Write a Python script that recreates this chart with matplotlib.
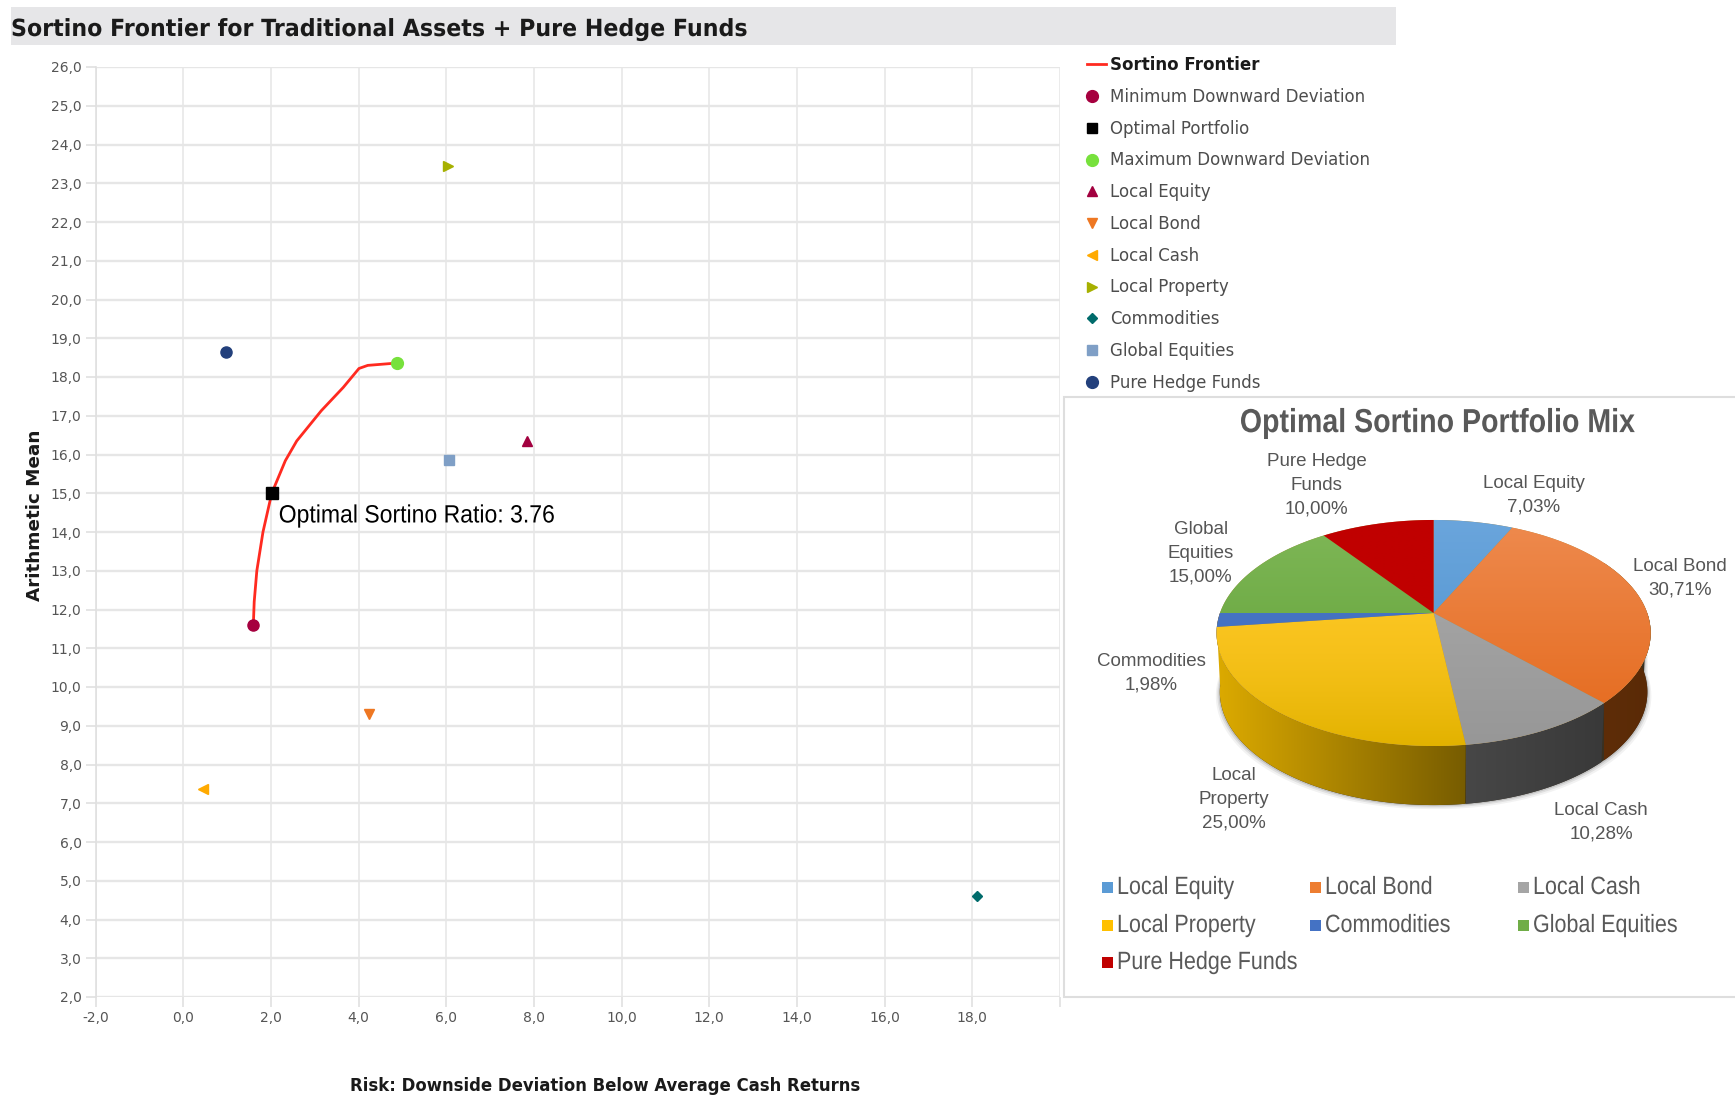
import numpy as np
import matplotlib
matplotlib.use("Agg")
import matplotlib.pyplot as plt
from matplotlib.colors import to_rgb
from matplotlib.legend_handler import HandlerLine2D
from matplotlib.patches import Polygon, Rectangle
from matplotlib.patheffects import AbstractPathEffect
from matplotlib.ticker import FuncFormatter
from matplotlib.transforms import Affine2D

# ---------- data ----------
frontier_x = [1.60, 1.62, 1.68, 1.82, 2.02, 2.33, 2.59, 3.15, 3.65, 4.01, 4.21, 4.87]
frontier_y = [11.6, 12.2, 13.0, 14.0, 15.0, 15.84, 16.35, 17.13, 17.73, 18.22, 18.30, 18.36]
point_names = ["Minimum Downward Deviation", "Optimal Portfolio", "Maximum Downward Deviation",
               "Local Equity", "Local Bond", "Local Cash", "Local Property",
               "Commodities", "Global Equities", "Pure Hedge Funds"]
point_x = [1.60, 2.02, 4.87, 7.85, 4.24, 0.46, 6.03, 18.10, 6.06, 0.97]
point_y = [11.6, 15.0, 18.36, 16.36, 9.31, 7.37, 23.45, 4.60, 15.85, 18.65]
point_markers = ["o", "s", "o", "^", "v", "<", ">", "D", "s", "o"]
point_sizes = [8, 8, 8.5, 7.5, 7.5, 7.5, 7.5, 5, 7.5, 8]
legend_sizes = [8.5, 7, 8.5, 7, 7, 7, 7, 5.5, 7, 8.5]
point_colors = ["#a6003f", "#000000", "#77e13c", "#a2003f", "#ee7722", "#ffaa00",
                "#a6b000", "#006b6b", "#7f9fc6", "#23407c"]

pie_names = ["Local Equity", "Local Bond", "Local Cash", "Local Property",
             "Commodities", "Global Equities", "Pure Hedge Funds"]
pie_values = [7.03, 30.71, 10.28, 25.00, 1.98, 15.00, 10.00]
pie_label_lines = ["Local Equity", "Local Bond", "Local Cash", "Local\nProperty",
                   "Commodities", "Global\nEquities", "Pure Hedge\nFunds"]
pie_colors = ["#5b9bd5", "#ed7d31", "#a5a5a5", "#ffc000", "#4472c4", "#70ad47", "#c00000"]

# ---------- styles / layout (pixels in a 1735x1097 canvas) ----------
W, H = 1735, 1097
SANS = "Liberation Sans"
face_top = ["#6aa5dc", "#ee8a4e", "#ababab", "#ffc826", "#4a78c8", "#7fb757", "#c00000"]
face_bot = ["#4a90cc", "#e4681a", "#979797", "#e2b200", "#3f6cbc", "#5d9f33", "#c00000"]
face_gamma = [1, 1, 1, 2.2, 1, 1, 1]
wall_l = ["#2f5f8c", "#5e2d08", "#474747", "#dcaa00", "#2a4a80", "#4a7a30", "#800000"]
wall_r = ["#2f5f8c", "#5a2a06", "#393939", "#775c00", "#2a4a80", "#4a7a30", "#800000"]
label_centres = [(1533.6, 495), (1680, 578), (1601, 822), (1234, 799.5),
                 (1151, 673.5), (1200.6, 553.5), (1316.7, 485)]


class Condense(AbstractPathEffect):
    """Narrow a real text horizontally about the pixel column x0."""

    def __init__(self, sx, x0):
        super().__init__()
        self.sx, self.x0 = sx, x0

    def draw_path(self, renderer, gc, tpath, affine, rgbFace=None):
        t = affine + Affine2D().translate(-self.x0, 0).scale(self.sx, 1).translate(self.x0, 0)
        renderer.draw_path(gc, tpath, t, rgbFace)


class ShiftedMarker(HandlerLine2D):
    """Legend marker a little left of the middle of the handle box."""

    def get_xdata(self, legend, xdescent, ydescent, width, height, fontsize):
        xd, xm = super().get_xdata(legend, xdescent, ydescent, width, height, fontsize)
        return [v - 3.2 for v in xd], [v - 3.2 for v in xm]


fig = plt.figure(figsize=(W / 100, H / 100), dpi=100, facecolor="white")

# ---------- frontier chart ----------
L, R, T, B = 95.5, 1060, 67, 997
ax = fig.add_axes([L / W, 1 - B / H, (R - L) / W, (B - T) / H])
line, = ax.plot(frontier_x, frontier_y, color="#ff2a20", lw=2.0, label="Sortino Frontier", zorder=3)
handles = [line]
for n, x, y, m, s, c in zip(point_names, point_x, point_y, point_markers, point_sizes, point_colors):
    h, = ax.plot([x], [y], ls="none", marker=m, ms=s, color=c, mec=c, label=n, zorder=4)
    handles.append(h)
ax.set_xlim(-2, 20)
ax.set_ylim(2, 26)
ax.set_xticks(np.arange(-2, 21, 2))
ax.set_yticks(np.arange(2, 27, 1))
ax.xaxis.set_major_formatter(FuncFormatter(lambda v, p: "" if v > 19 else f"{v:.1f}".replace(".", ",")))
ax.yaxis.set_major_formatter(FuncFormatter(lambda v, p: f"{v:.1f}".replace(".", ",")))
ax.tick_params(axis="both", colors="#e0e0e0", labelcolor="#555555", labelsize=10, length=7, width=1.2, pad=3)
ax.grid(axis="y", color="#e6e6e6", lw=1.7)
ax.grid(axis="x", color="#e6e6e6", lw=1.1)
ax.set_axisbelow(True)
for k in ["top", "right", "bottom"]:
    ax.spines[k].set_visible(False)
ax.spines["left"].set_color("#e0e0e0")
ax.spines["left"].set_linewidth(1.2)
ann = ax.annotate("Optimal Sortino Ratio: 3.76", xy=(point_x[1], point_y[1]), xytext=(5, -16),
                  textcoords="offset points", ha="left", va="center", fontsize=18,
                  family=SANS, color="black", zorder=5)
ann.set_path_effects([Condense(0.92, 279)])

# ---------- overlay in pixel coordinates ----------
ov = fig.add_axes([0, 0, 1, 1], zorder=2)
ov.patch.set_alpha(0)
ov.axis("off")

ov.add_patch(Rectangle((11, 6.5), 1385, 38, fc="#e6e6e8", ec="none"))
title = ov.text(11, 29, "Sortino Frontier for Traditional Assets + Pure Hedge Funds", fontsize=17,
                fontweight="bold", color="#1a1a1a", ha="left", va="center")
title.set_path_effects([Condense(0.939, 11)])
ov.text(605, 1086, "Risk: Downside Deviation Below Average Cash Returns", fontsize=11.9,
        fontweight="bold", color="#1a1a1a", ha="center", va="center")
ov.text(35, 515, "Arithmetic Mean", fontsize=13.2, fontweight="bold", color="#1a1a1a",
        rotation=90, ha="center", va="center")

# panel
ov.add_patch(Rectangle((1064, 397), 700, 600, fc="white", ec="#dedede", lw=1.5))
pie_title = ov.text(1438, 423.6, "Optimal Sortino Portfolio Mix", fontsize=24, fontweight="bold",
                    family=SANS, color="#595959", ha="center", va="center")
pie_title.set_path_effects([Condense(0.857, 1438)])

# 3-D pie projected from the values
cx, cy = 1433.6, 613.0
k, a, b = 0.177, 109.5, 213.6
depth = 59.0


def rim(theta):
    u, v = np.sin(theta), np.cos(theta)
    d = 1 + k * v
    return cx + b * u / d, cy - a * v / d


def gradient_fill(poly_xy, c0, c1, vertical, lo, hi, z, gamma=1.0):
    poly = Polygon(poly_xy, closed=True, fc="none", ec="none", transform=ov.transData)
    ov.add_patch(poly)
    c0, c1 = np.array(to_rgb(c0)), np.array(to_rgb(c1))
    t = np.linspace(0, 1, 128)[:, None] ** gamma
    ramp = c0 * (1 - t) + c1 * t
    img = ramp[:, None, :] if vertical else ramp[None, :, :]
    extent = (cx - 240, cx + 240, hi, lo) if vertical else (lo, hi, cy + 220, cy - 120)
    im = ov.imshow(img, extent=extent, aspect="auto", zorder=z, interpolation="bilinear")
    im.set_clip_path(poly)


edges = np.deg2rad(np.concatenate([[0], np.cumsum(pie_values)]) * 3.6)

# soft shadow around the base
tt = np.linspace(np.pi / 2, 3 * np.pi / 2, 200)
sx, sy = rim(tt)
for grow, alpha in [(4, 0.05), (2.5, 0.08), (1.2, 0.12)]:
    pts = np.column_stack([np.r_[cx + (sx - cx) * 0.985 + np.sign(sx - cx) * grow, sx[::-1]],
                           np.r_[sy + depth + grow, sy[::-1]]])
    ov.add_patch(Polygon(pts, closed=True, fc="black", ec="none", alpha=alpha, zorder=3))

# dark base under the walls, so that no seams show between them
base = np.column_stack([np.r_[sx, (cx + (sx - cx) * 0.985)[::-1]], np.r_[sy, (sy + depth)[::-1]]])
ov.add_patch(Polygon(base, closed=True, fc="#3a3020", ec="none", zorder=3.5))

# walls: only the slices turned towards the viewer
for i in range(len(pie_values)):
    t = np.linspace(edges[i], edges[i + 1], 80)
    front = np.cos(t) < -k
    if not front.any():
        continue
    x, y = rim(t)
    bx = cx + (x - cx) * 0.985
    wall = np.column_stack([np.r_[x, bx[::-1]], np.r_[y, y[::-1] + depth]])
    gradient_fill(wall, wall_l[i], wall_r[i], False, x[front].min(), x[front].max(), 4 + i * 0.01)

# top faces
ft = np.linspace(0, 2 * np.pi, 360)
fx, fy = rim(ft)
ov.add_patch(Polygon(np.column_stack([fx, fy]), closed=True, fc="#b08a40", ec="none", zorder=4.5))
for i in range(len(pie_values)):
    t = np.linspace(edges[i], edges[i + 1], 120)
    x, y = rim(t)
    face = np.column_stack([np.r_[cx, x], np.r_[cy, y]])
    gradient_fill(face, face_top[i], face_bot[i], True, 520, 746, 5 + i * 0.01, face_gamma[i])

# data labels
for name, v, (lx, ly) in zip(pie_label_lines, pie_values, label_centres):
    ov.text(lx, ly, name + "\n" + f"{v:.2f}".replace(".", ",") + "%", fontsize=13.5, linespacing=1.52,
            family=SANS, color="#555555", ha="center", va="center", zorder=7)

# pie legend (three columns, row by row)
col_x, row_y = [1107, 1315, 1523], [887, 925, 962]
for i, (name, c) in enumerate(zip(pie_names, pie_colors)):
    px, py = col_x[i % 3], row_y[i // 3]
    ov.add_patch(Rectangle((px - 5.5, py - 5.5), 11, 11, fc=c, ec="none", zorder=7))
    txt = ov.text(px + 10, py, name, fontsize=18, family=SANS, color="#595959",
                  ha="left", va="center", zorder=7)
    txt.set_path_effects([Condense(0.86, px + 10)])

ov.set_xlim(0, W)
ov.set_ylim(H, 0)

# ---------- main legend ----------
leg = fig.legend(handles=handles, loc="upper left", bbox_to_anchor=(1087 / W, 1 - 56.2 / H),
                 frameon=False, fontsize=12, handlelength=1.15, handletextpad=0.25,
                 labelspacing=0.825, borderpad=0, borderaxespad=0, numpoints=1,
                 handler_map={h: ShiftedMarker() for h in handles[1:]})
for i, t in enumerate(leg.get_texts()):
    t.set_color("#1a1a1a" if i == 0 else "#4d4d4d")
    if i == 0:
        t.set_fontweight("bold")
for hnd, s in zip(leg.legend_handles[1:], legend_sizes):
    hnd.set_markersize(s)

fig.savefig("out.png", dpi=100)
